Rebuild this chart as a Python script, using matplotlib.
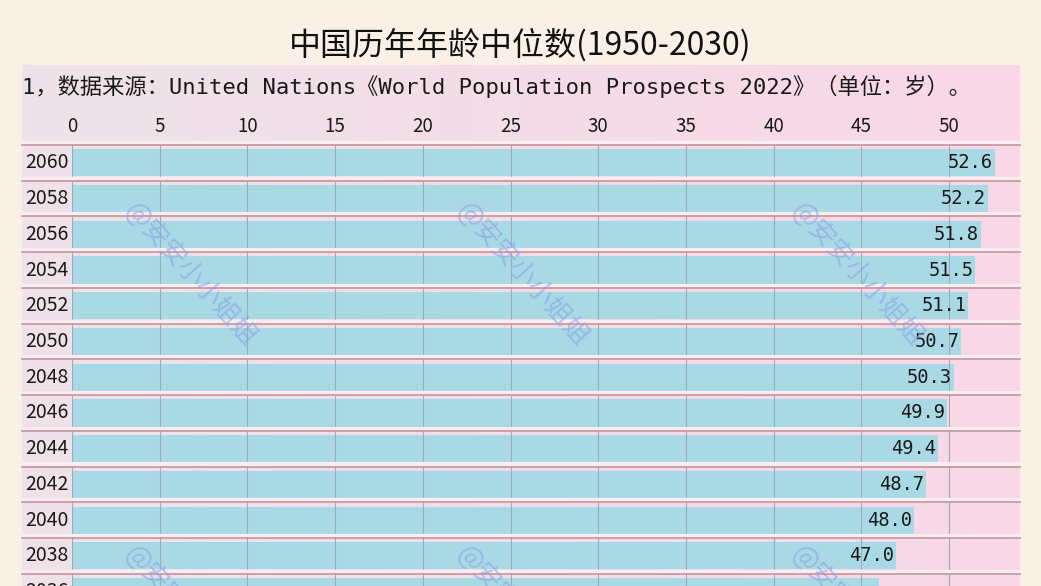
import numpy as np
import matplotlib
matplotlib.use('Agg')
import matplotlib.pyplot as plt
from matplotlib.transforms import blended_transform_factory

# data
years = [2060, 2058, 2056, 2054, 2052, 2050, 2048, 2046, 2044, 2042, 2040, 2038, 2036]
ages = [52.6, 52.2, 51.8, 51.5, 51.1, 50.7, 50.3, 49.9, 49.4, 48.7, 48.0, 47.0, 46.0]
ticks = [0, 5, 10, 15, 20, 25, 30, 35, 40, 45, 50]
title = '中国历年年龄中位数(1950-2030)'
note = '1，数据来源：United Nations《World Population Prospects 2022》（单位：岁）。'
mark = '@安安小小姐姐'

plt.rcParams['font.family'] = ['Noto Sans CJK SC', 'DejaVu Sans']
mono = ['DejaVu Sans Mono', 'Noto Sans CJK SC']

W, H = 1041, 586
fig = plt.figure(figsize=(W / 100, H / 100), dpi=100, facecolor='#faf0e6')

# pink panel behind the table
bg = fig.add_axes([0, 0, 1, 1], zorder=-10)
c0 = np.array([0xee, 0xe3, 0xe9]) / 255
c1 = np.array([0xf9, 0xd7, 0xe6]) / 255
grad = np.linspace(c0, c1, 256)[None, :, :]
bg.imshow(grad, extent=(22, 1020, H, 65), aspect='auto')
bg.set_xlim(0, W)
bg.set_ylim(H, 0)
bg.axis('off')

ax = fig.add_axes([72 / W, 0, 948 / W, 441 / H])
ax.patch.set_alpha(0)
pos = np.arange(len(years)) + 0.5
ax.barh(pos, ages, height=0.76, color='#a9d9e5', zorder=2)
ax.set_xlim(0, 948 / 17.54)
ax.set_ylim(441 / 35.73, 0)
for x in ticks:
    ax.axvline(x, color='#98aeb8', lw=0.8, zorder=3)

tr = blended_transform_factory(fig.transFigure, ax.transData)
for b in range(len(years) + 1):
    ax.plot([22 / W, 1020 / W], [b - 0.06, b - 0.06], transform=tr, color='#f8eef2',
            lw=3, clip_on=False, zorder=4)
    ax.plot([22 / W, 1020 / W], [b, b], transform=tr, color='#c4959b',
            lw=1.2, clip_on=False, zorder=4)

for p, y, v in zip(pos, years, ages):
    ax.text(25 / W, p, str(y), transform=tr, ha='left', va='center',
            fontsize=14, color='#1a1a1a', clip_on=False)
    ax.annotate(f'{v:.1f}', (v, p), xytext=(-1.5, 0), textcoords='offset points',
                ha='right', va='center', fontsize=13.5, family=mono, color='#1a1a1a', zorder=5)

ax.xaxis.tick_top()
ax.set_xticks(ticks)
ax.tick_params(axis='x', length=0, pad=6, labelsize=13.5, labelcolor='#1a1a1a')
ax.set_yticks([])
for s in ax.spines.values():
    s.set_visible(False)

fig.text(520 / W, 1 - 45 / H, title, ha='center', va='center', fontsize=23, color='#111111')
fig.text(22 / W, 1 - 86 / H, note, ha='left', va='center', fontsize=16, family=mono,
         color='#1a1a1a')

# watermark
for cx in [190, 522, 857]:
    for cy in [275, 618]:
        fig.text(cx / W, 1 - cy / H, mark, rotation=-48, ha='center', va='center',
                 rotation_mode='anchor', fontsize=19, color='#8aa2e2', alpha=0.6, zorder=6)

fig.savefig('out.png', dpi=100)
